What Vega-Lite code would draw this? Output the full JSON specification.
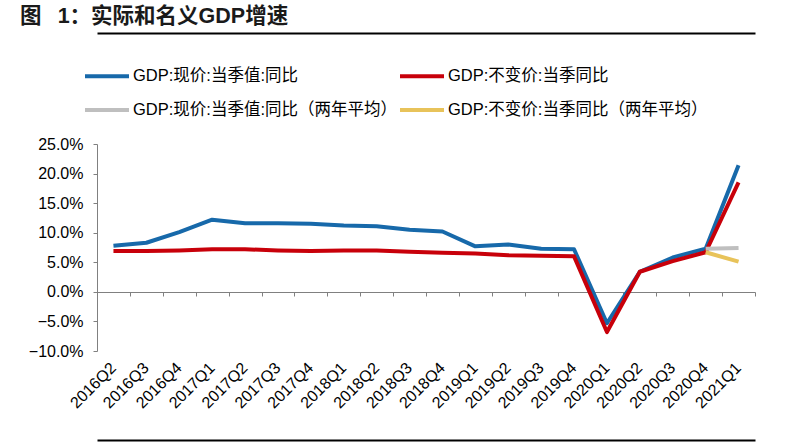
{
  "$schema": "https://vega.github.io/schema/vega-lite/v6.json",
  "autosize": {"type": "none"},
  "width": 658,
  "height": 207,
  "padding": {"left": 97, "top": 144, "right": 45, "bottom": 94},
  "background": "white",
  "title": {
    "text": "图\u2002\u20051：实际和名义GDP增速",
    "anchor": "start",
    "frame": "group",
    "dx": -77,
    "offset": 6,
    "font": "Liberation Sans, Noto Sans CJK SC",
    "fontSize": 21.5,
    "fontWeight": "bold",
    "color": "#1a1a1a"
  },
  "config": {
    "view": {"stroke": null},
    "font": "Liberation Sans, Noto Sans CJK SC"
  },
  "data": {
    "values": [
      {"quarter": "2016Q2", "series": "GDP:现价:当季值:同比", "value": 7.8},
      {"quarter": "2016Q3", "series": "GDP:现价:当季值:同比", "value": 8.3},
      {"quarter": "2016Q4", "series": "GDP:现价:当季值:同比", "value": 10.1},
      {"quarter": "2017Q1", "series": "GDP:现价:当季值:同比", "value": 12.2},
      {"quarter": "2017Q2", "series": "GDP:现价:当季值:同比", "value": 11.6},
      {"quarter": "2017Q3", "series": "GDP:现价:当季值:同比", "value": 11.6},
      {"quarter": "2017Q4", "series": "GDP:现价:当季值:同比", "value": 11.5},
      {"quarter": "2018Q1", "series": "GDP:现价:当季值:同比", "value": 11.2},
      {"quarter": "2018Q2", "series": "GDP:现价:当季值:同比", "value": 11.1},
      {"quarter": "2018Q3", "series": "GDP:现价:当季值:同比", "value": 10.5},
      {"quarter": "2018Q4", "series": "GDP:现价:当季值:同比", "value": 10.2},
      {"quarter": "2019Q1", "series": "GDP:现价:当季值:同比", "value": 7.7},
      {"quarter": "2019Q2", "series": "GDP:现价:当季值:同比", "value": 8.0},
      {"quarter": "2019Q3", "series": "GDP:现价:当季值:同比", "value": 7.3},
      {"quarter": "2019Q4", "series": "GDP:现价:当季值:同比", "value": 7.2},
      {"quarter": "2020Q1", "series": "GDP:现价:当季值:同比", "value": -5.3},
      {"quarter": "2020Q2", "series": "GDP:现价:当季值:同比", "value": 3.4},
      {"quarter": "2020Q3", "series": "GDP:现价:当季值:同比", "value": 5.8},
      {"quarter": "2020Q4", "series": "GDP:现价:当季值:同比", "value": 7.3},
      {"quarter": "2021Q1", "series": "GDP:现价:当季值:同比", "value": 21.4},
      {"quarter": "2016Q2", "series": "GDP:不变价:当季同比", "value": 6.9},
      {"quarter": "2016Q3", "series": "GDP:不变价:当季同比", "value": 6.9},
      {"quarter": "2016Q4", "series": "GDP:不变价:当季同比", "value": 7.0},
      {"quarter": "2017Q1", "series": "GDP:不变价:当季同比", "value": 7.2},
      {"quarter": "2017Q2", "series": "GDP:不变价:当季同比", "value": 7.2},
      {"quarter": "2017Q3", "series": "GDP:不变价:当季同比", "value": 7.0},
      {"quarter": "2017Q4", "series": "GDP:不变价:当季同比", "value": 6.9},
      {"quarter": "2018Q1", "series": "GDP:不变价:当季同比", "value": 7.0},
      {"quarter": "2018Q2", "series": "GDP:不变价:当季同比", "value": 7.0},
      {"quarter": "2018Q3", "series": "GDP:不变价:当季同比", "value": 6.8},
      {"quarter": "2018Q4", "series": "GDP:不变价:当季同比", "value": 6.6},
      {"quarter": "2019Q1", "series": "GDP:不变价:当季同比", "value": 6.5},
      {"quarter": "2019Q2", "series": "GDP:不变价:当季同比", "value": 6.2},
      {"quarter": "2019Q3", "series": "GDP:不变价:当季同比", "value": 6.1},
      {"quarter": "2019Q4", "series": "GDP:不变价:当季同比", "value": 6.0},
      {"quarter": "2020Q1", "series": "GDP:不变价:当季同比", "value": -6.8},
      {"quarter": "2020Q2", "series": "GDP:不变价:当季同比", "value": 3.4},
      {"quarter": "2020Q3", "series": "GDP:不变价:当季同比", "value": 5.2},
      {"quarter": "2020Q4", "series": "GDP:不变价:当季同比", "value": 6.7},
      {"quarter": "2021Q1", "series": "GDP:不变价:当季同比", "value": 18.5},
      {"quarter": "2020Q4", "series": "GDP:现价:当季值:同比（两年平均）", "value": 7.3},
      {"quarter": "2021Q1", "series": "GDP:现价:当季值:同比（两年平均）", "value": 7.4},
      {"quarter": "2020Q4", "series": "GDP:不变价:当季同比（两年平均）", "value": 6.7},
      {"quarter": "2021Q1", "series": "GDP:不变价:当季同比（两年平均）", "value": 5.1}
    ]
  },
  "layer": [
    {
      "mark": {"type": "line", "strokeWidth": 4, "strokeJoin": "round"},
      "encoding": {
        "x": {
          "field": "quarter", "type": "ordinal", "sort": null, "bandPosition": 0.5,
          "scale": {"type": "band", "paddingInner": 0, "paddingOuter": 0},
          "axis": {
            "title": null, "orient": "bottom", "domain": false, "ticks": false,
            "labelAngle": -45, "labelAlign": "right", "labelBaseline": "middle",
            "labelFontSize": 16, "labelColor": "#000000", "labelPadding": 14,
            "labelFont": "Liberation Sans"
          }
        },
        "y": {
          "field": "value", "type": "quantitative",
          "scale": {"domain": [-10, 25], "nice": false, "zero": false},
          "axis": {
            "title": null, "grid": false,
            "values": [-10, -5, 0, 5, 10, 15, 20, 25],
            "labelExpr": "format(datum.value, '.1f') + '%'",
            "domainColor": "#808080", "tickColor": "#808080", "tickSize": 4,
            "labelFontSize": 16, "labelColor": "#000000", "labelPadding": 10,
            "labelFont": "Liberation Sans"
          }
        },
        "color": {
          "field": "series", "type": "nominal",
          "scale": {
            "domain": ["GDP:现价:当季值:同比", "GDP:不变价:当季同比", "GDP:现价:当季值:同比（两年平均）", "GDP:不变价:当季同比（两年平均）"],
            "range": ["#1769aa", "#c8000a", "#bfbfbf", "#e8c35a"]
          },
          "legend": {
            "orient": "none", "legendX": -14, "legendY": -92,
            "direction": "horizontal",
            "columns": 2, "title": null, "padding": 0,
            "symbolType": "stroke", "symbolSize": 1936, "symbolStrokeWidth": 4,
            "labelFontSize": 16.5, "labelOffset": 2, "labelColor": "#000000",
            "rowPadding": 1, "columnPadding": -6, "labelLimit": 400
          }
        }
      }
    },
    {
      "mark": {"type": "point", "opacity": 0},
      "encoding": {
        "x": {
          "field": "quarter", "type": "ordinal", "sort": null,
          "axis": {
            "title": null, "orient": "bottom", "labels": false, "offset": -59, "tickBand": "extent",
            "domainColor": "#808080", "tickColor": "#808080", "tickSize": 4
          }
        }
      }
    },
    {
      "mark": {"type": "point", "opacity": 0},
      "encoding": {
        "x": {
          "field": "quarter", "type": "ordinal", "sort": null,
          "axis": {
            "title": null, "orient": "top", "labels": false, "ticks": false, "offset": 111,
            "domainColor": "#000000", "domainWidth": 2
          }
        }
      }
    },
    {
      "mark": {"type": "point", "opacity": 0},
      "encoding": {
        "x": {
          "field": "quarter", "type": "ordinal", "sort": null,
          "axis": {
            "title": null, "orient": "bottom", "labels": false, "ticks": false, "offset": 89,
            "domainColor": "#000000", "domainWidth": 2
          }
        }
      }
    }
  ],
  "resolve": {"axis": {"x": "independent"}}
}
